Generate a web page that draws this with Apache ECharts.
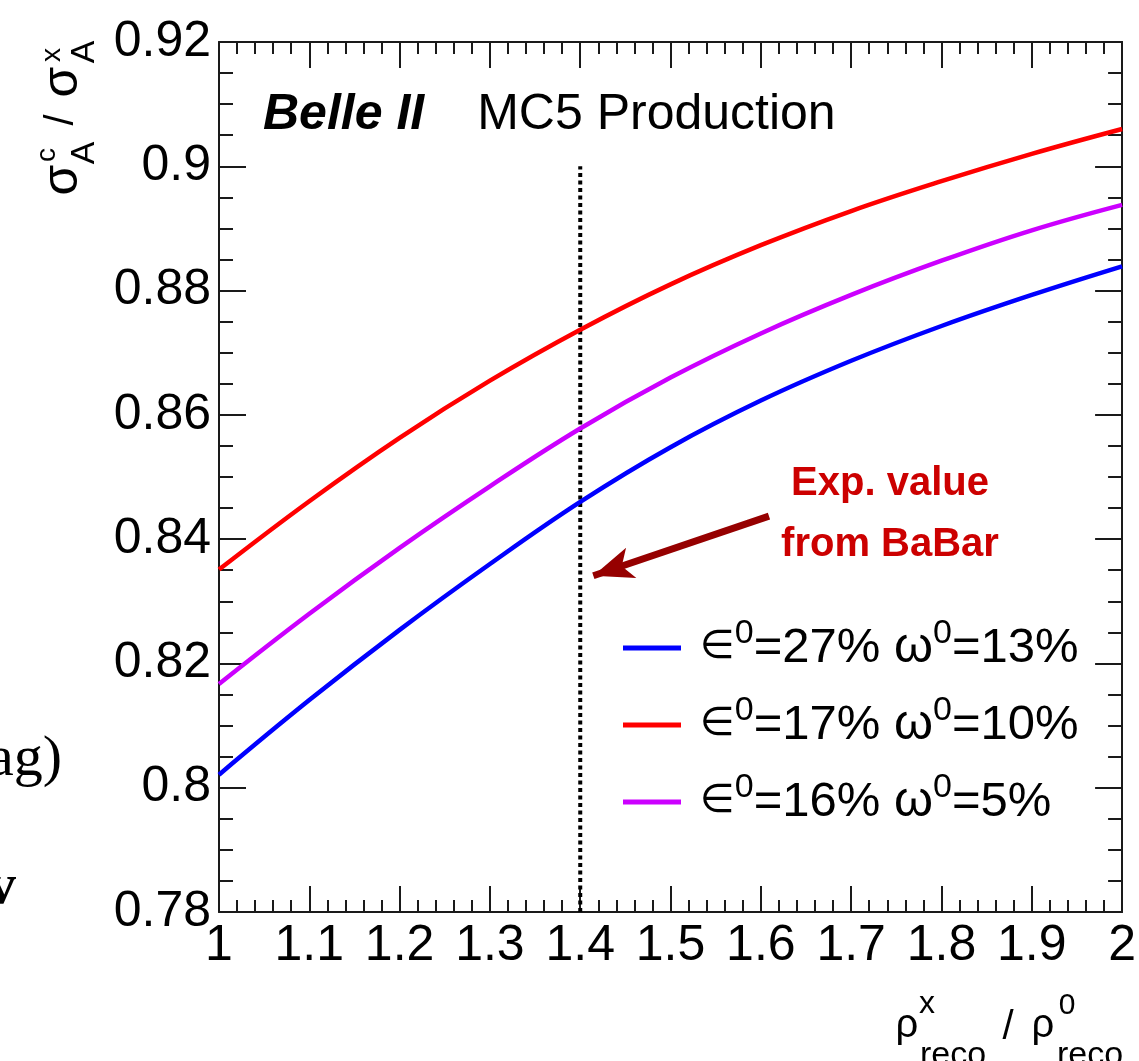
<!DOCTYPE html>
<html><head><meta charset="utf-8">
<script src="https://cdn.jsdelivr.net/npm/echarts@6/dist/echarts.min.js"></script>
<style>html,body{margin:0;padding:0;background:#fff}#c{width:1139px;height:1061px}</style>
</head><body><div id="c"></div>
<script>
// ---- data ----
const xValues = [1.0, 1.1, 1.2, 1.3, 1.4, 1.5, 1.6, 1.7, 1.8, 1.9, 2.0];
const blueValues    = [0.8021, 0.8141, 0.8254, 0.8360, 0.8460, 0.8548, 0.8623, 0.8687, 0.8743, 0.8793, 0.8839];
const redValues     = [0.8351, 0.8461, 0.8563, 0.8655, 0.8737, 0.8810, 0.8873, 0.8928, 0.8976, 0.9020, 0.9060];
const magentaValues = [0.8167, 0.8280, 0.8386, 0.8485, 0.8578, 0.8660, 0.8731, 0.8793, 0.8848, 0.8897, 0.8938];
const effValues = [27, 17, 16];
const mistagValues = [13, 10, 5];
const xTickLabels = ['1', '1.1', '1.2', '1.3', '1.4', '1.5', '1.6', '1.7', '1.8', '1.9', '2'];
const yTickLabels = ['0.78', '0.8', '0.82', '0.84', '0.86', '0.88', '0.9', '0.92'];
const babarX = [1.4, 1.4];
const babarY = [0.78, 0.9];
const arrowFrom = [1.609, 0.8437];
const arrowTo = [1.4145, 0.8341];

const FONT = "'Liberation Sans', Arial, Helvetica, sans-serif";
const SERIF = "'Liberation Serif', 'DejaVu Serif', serif";
const seriesColors = ['#0000ff', '#ff0000', '#cc00ff'];
const seriesValues = [blueValues, redValues, magentaValues];
const seriesNames = effValues.map((e, i) => '\u2208' + '0=' + e + '% \u03c9' + '0=' + mistagValues[i] + '%');

function pts(ys) { return xValues.map((x, i) => [x, ys[i]]); }

const axisColor = '#1a1a1a';
function xAxisDef(pos, showLabel) {
  return {
    type: 'value', position: pos, min: 1, max: 2, interval: 0.1,
    axisLine: { show: true, onZero: false, lineStyle: { color: axisColor, width: 2 } },
    axisTick: { show: true, inside: true, length: 26, lineStyle: { color: axisColor, width: 2 } },
    minorTick: { show: true, splitNumber: 5, length: 12, lineStyle: { color: axisColor, width: 2 } },
    splitLine: { show: false }, minorSplitLine: { show: false },
    axisLabel: {
      show: showLabel, margin: 9, fontSize: 50, color: '#000', fontFamily: FONT,
      showMinLabel: true, showMaxLabel: true,
      formatter: (v, i) => xTickLabels[i]
    }
  };
}
function yAxisDef(pos, showLabel) {
  return {
    type: 'value', position: pos, min: 0.78, max: 0.92, interval: 0.02,
    axisLine: { show: true, onZero: false, lineStyle: { color: axisColor, width: 2 } },
    axisTick: { show: true, inside: true, length: 27, lineStyle: { color: axisColor, width: 2 } },
    minorTick: { show: true, splitNumber: 4, length: 14, lineStyle: { color: axisColor, width: 2 } },
    splitLine: { show: false }, minorSplitLine: { show: false },
    axisLabel: {
      show: showLabel, margin: 8, fontSize: 50, color: '#000', fontFamily: FONT,
      showMinLabel: true, showMaxLabel: true,
      formatter: (v, i) => yTickLabels[i]
    }
  };
}

function rotText(text, x, y, size) {
  return { type: 'text', x: x, y: y, rotation: Math.PI / 2, silent: true,
    style: { text: text, font: size + 'px ' + FONT, fill: '#000',
      align: 'center', verticalAlign: 'middle', textAlign: 'center', textVerticalAlign: 'middle' } };
}
function plainText(text, x, y, size, family, align, weight, color) {
  const f = (weight ? weight + ' ' : '') + size + 'px ' + (family || FONT);
  return { type: 'text', x: x, y: y, silent: true,
    style: { text: text, font: f, fill: color || '#000',
      align: align || 'center', verticalAlign: 'middle', textAlign: align || 'center', textVerticalAlign: 'middle' } };
}

const chart = echarts.init(document.getElementById('c'), null, { renderer: 'canvas' });
const option = {
  animation: false,
  backgroundColor: '#fff',
  grid: { left: 219, right: 11, top: 42, bottom: 149, containLabel: false },
  title: {
    left: 263, top: 90, padding: 0,
    text: '{b|Belle II}{n|MC5 Production}',
    textStyle: {
      fontWeight: 'normal',
      rich: {
        b: { fontSize: 50, fontWeight: 'bold', fontStyle: 'italic', fontFamily: FONT, color: '#000', padding: [0, 53, 0, 0] },
        n: { fontSize: 50, fontWeight: 'normal', fontFamily: FONT, color: '#000' }
      }
    }
  },
  legend: {
    orient: 'vertical', left: 623, top: 617, itemGap: 15, padding: 0,
    itemWidth: 58, itemHeight: 5, icon: 'rect',
    data: seriesNames.map((n, i) => ({ name: n, itemStyle: { color: seriesColors[i] } })),
    formatter: function (name) {
      const i = seriesNames.indexOf(name);
      return '{g|}{e|\u2208}{s|0}{n|=' + effValues[i] + '% }{w|\u03c9}{s|0}{n|=' + mistagValues[i] + '%}';
    },
    textStyle: {
      fontSize: 49, fontFamily: FONT, color: '#000', lineHeight: 62,
      rich: {
        g: { width: 14 },
        e: { fontSize: 40, fontFamily: "'DejaVu Sans', sans-serif", color: '#000', lineHeight: 62 },
        w: { fontSize: 50, fontFamily: FONT, color: '#000', lineHeight: 62 },
        n: { fontSize: 49, fontFamily: FONT, color: '#000', lineHeight: 62 },
        s: { fontSize: 34, fontFamily: FONT, color: '#000', lineHeight: 33, verticalAlign: 'top' }
      }
    }
  },
  xAxis: [xAxisDef('bottom', true), xAxisDef('top', false)],
  yAxis: [yAxisDef('left', true), yAxisDef('right', false)],
  series: seriesValues.map((ys, i) => ({
    name: seriesNames[i], type: 'line', data: pts(ys), showSymbol: false,
    smooth: 0.4,
    lineStyle: { color: seriesColors[i], width: 4.5 }, itemStyle: { color: seriesColors[i] }, z: 3
  })).concat([{
    name: 'BaBar', type: 'line', data: babarX.map((x, i) => [x, babarY[i]]), showSymbol: false, silent: true,
    lineStyle: { color: '#000', width: 4, type: [4, 3.5] }, z: 2,
    markLine: {
      silent: true, animation: false, symbol: ['none', 'arrow'], symbolSize: [1, 30],
      lineStyle: { color: '#960000', width: 7, type: 'solid' }, label: { show: false },
      emphasis: { disabled: true },
      data: [[{ coord: arrowFrom }, { coord: arrowTo, symbolSize: [24, 40] }]]
    }
  }]),
  graphic: [
    // annotation
    plainText('Exp. value', 890, 484, 40, FONT, 'center', 'bold', '#cc0000'),
    plainText('from BaBar', 890, 545, 40, FONT, 'center', 'bold', '#cc0000'),
    // y-axis title
    rotText('\u03c3', 63, 180, 50),
    rotText('c', 47, 155, 28),
    rotText('A', 85, 153, 34),
    rotText('/', 62, 120, 40),
    rotText('\u03c3', 63, 82, 50),
    rotText('x', 52, 55, 28),
    rotText('A', 85, 52, 34),
    // x-axis title
    plainText('\u03c1', 907, 1026, 40),
    plainText('x', 927, 1004, 32),
    plainText('reco', 953, 1056, 34),
    plainText('/', 1008, 1028, 40),
    plainText('\u03c1', 1043, 1026, 40),
    plainText('0', 1067, 1006, 30),
    plainText('reco', 1090, 1056, 34),
    // clipped neighbouring slide text
    plainText('ag)', 62, 760, 58, SERIF, 'right'),
    plainText('v', 16, 888, 58, SERIF, 'right', 'bold')
  ]
};
chart.setOption(option);
</script>
</body></html>
